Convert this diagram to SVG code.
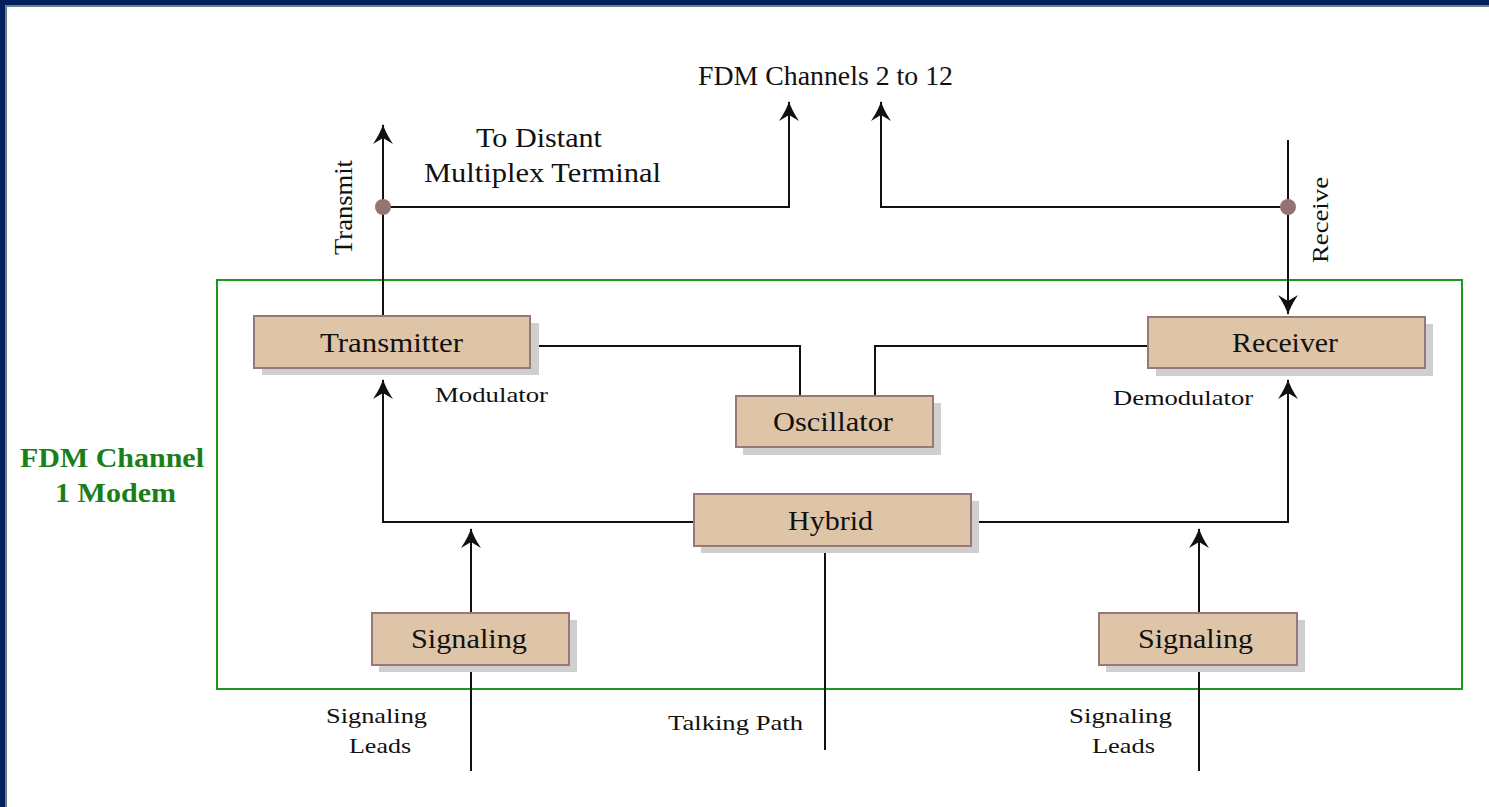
<svg xmlns="http://www.w3.org/2000/svg" width="1489" height="807" viewBox="0 0 1489 807">
<style>
.box{fill:#dfc5a8;stroke:#9a7878;stroke-width:2}
.sh{fill:#cfcfcf}
.lbl{font-family:"Liberation Serif",serif;font-size:28px;fill:#111}
.sm{font-family:"Liberation Serif",serif;font-size:21px;fill:#111}
.grn{font-family:"Liberation Serif",serif;font-size:27px;font-weight:bold;fill:#1a7f1a}
.ln{fill:none;stroke:#111;stroke-width:2}
.dot{fill:#957373}
</style>
<defs>
<marker id="ah" viewBox="0 0 20 20" refX="19" refY="10" markerWidth="20" markerHeight="20" markerUnits="userSpaceOnUse" orient="auto">
<path d="M0,0 Q12,8 20,10 Q12,12 0,20 L6,10 Z" fill="#111"/>
</marker>
</defs>
<rect x="0" y="0" width="1489" height="807" fill="#fff"/>
<rect x="0" y="0" width="1489" height="5" fill="#00205e"/>
<rect x="0" y="0" width="5" height="807" fill="#00205e"/>
<rect x="5" y="5" width="1484" height="2" fill="#6e7f8c"/>
<rect x="5" y="5" width="2" height="802" fill="#6e7f8c"/>

<g id="modem-frame">
<rect x="217" y="280" width="1245" height="409" fill="none" stroke="#1a9a1a" stroke-width="2"/>
<text class="grn" x="20" y="467" textLength="184" lengthAdjust="spacingAndGlyphs">FDM Channel</text>
<text class="grn" x="55" y="502" textLength="121" lengthAdjust="spacingAndGlyphs">1 Modem</text>
</g>

<g id="connectors">
<line class="ln" x1="383" y1="316" x2="383" y2="125" marker-end="url(#ah)"/>
<polyline class="ln" points="383,207 789,207 789,102" marker-end="url(#ah)"/>
<polyline class="ln" points="1288,207 881,207 881,102" marker-end="url(#ah)"/>
<line class="ln" x1="1288" y1="140" x2="1288" y2="314" marker-end="url(#ah)"/>
<polyline class="ln" points="537,346 800,346 800,396"/>
<polyline class="ln" points="875,396 875,346 1148,346"/>
<polyline class="ln" points="694,522 383,522 383,380" marker-end="url(#ah)"/>
<polyline class="ln" points="978,522 1288,522 1288,380" marker-end="url(#ah)"/>
<line class="ln" x1="471" y1="613" x2="471" y2="529" marker-end="url(#ah)"/>
<line class="ln" x1="1199" y1="613" x2="1199" y2="529" marker-end="url(#ah)"/>
<line class="ln" x1="471" y1="672" x2="471" y2="771"/>
<line class="ln" x1="1199" y1="672" x2="1199" y2="771"/>
<line class="ln" x1="825" y1="553" x2="825" y2="750"/>
<circle class="dot" cx="383" cy="207" r="8"/>
<circle class="dot" cx="1288" cy="207" r="8"/>
</g>

<g id="labels">
<text class="lbl" x="698" y="85" textLength="255" lengthAdjust="spacingAndGlyphs">FDM Channels 2 to 12</text>
<text class="lbl" x="476" y="147" textLength="126" lengthAdjust="spacingAndGlyphs">To Distant</text>
<text class="lbl" x="424" y="182" textLength="237" lengthAdjust="spacingAndGlyphs">Multiplex Terminal</text>
<text class="lbl" transform="translate(352,255) rotate(-90)" textLength="95" lengthAdjust="spacingAndGlyphs" style="font-size:26px">Transmit</text>
<text class="lbl" transform="translate(1328,263) rotate(-90)" textLength="86" lengthAdjust="spacingAndGlyphs" style="font-size:24px">Receive</text>
<text class="sm" x="435" y="402" textLength="113" lengthAdjust="spacingAndGlyphs">Modulator</text>
<text class="sm" x="1113" y="405" textLength="140" lengthAdjust="spacingAndGlyphs">Demodulator</text>
<text class="sm" x="326" y="723" textLength="101" lengthAdjust="spacingAndGlyphs">Signaling</text>
<text class="sm" x="349" y="753" textLength="62" lengthAdjust="spacingAndGlyphs">Leads</text>
<text class="sm" x="668" y="730" textLength="135" lengthAdjust="spacingAndGlyphs">Talking Path</text>
<text class="sm" x="1069" y="723" textLength="103" lengthAdjust="spacingAndGlyphs">Signaling</text>
<text class="sm" x="1092" y="753" textLength="63" lengthAdjust="spacingAndGlyphs">Leads</text>
</g>

<g id="transmitter">
<rect class="sh" x="262" y="323" width="277" height="52"/>
<rect class="box" x="254" y="316" width="276" height="52"/>
<text class="lbl" x="320" y="352" textLength="143" lengthAdjust="spacingAndGlyphs">Transmitter</text>
</g>
<g id="receiver">
<rect class="sh" x="1156" y="324" width="277" height="52"/>
<rect class="box" x="1148" y="317" width="277" height="51"/>
<text class="lbl" x="1232" y="352" textLength="106" lengthAdjust="spacingAndGlyphs">Receiver</text>
</g>
<g id="oscillator">
<rect class="sh" x="743" y="403" width="198" height="52"/>
<rect class="box" x="736" y="396" width="197" height="51"/>
<text class="lbl" x="773" y="431" textLength="120" lengthAdjust="spacingAndGlyphs">Oscillator</text>
</g>
<g id="hybrid">
<rect class="sh" x="701" y="501" width="278" height="52"/>
<rect class="box" x="694" y="494" width="277" height="52"/>
<text class="lbl" x="788" y="530" textLength="85" lengthAdjust="spacingAndGlyphs">Hybrid</text>
</g>
<g id="signaling-left">
<rect class="sh" x="379" y="620" width="198" height="52"/>
<rect class="box" x="372" y="613" width="197" height="52"/>
<text class="lbl" x="411" y="648" textLength="116" lengthAdjust="spacingAndGlyphs">Signaling</text>
</g>
<g id="signaling-right">
<rect class="sh" x="1106" y="620" width="199" height="52"/>
<rect class="box" x="1099" y="613" width="198" height="52"/>
<text class="lbl" x="1138" y="648" textLength="115" lengthAdjust="spacingAndGlyphs">Signaling</text>
</g>
</svg>
